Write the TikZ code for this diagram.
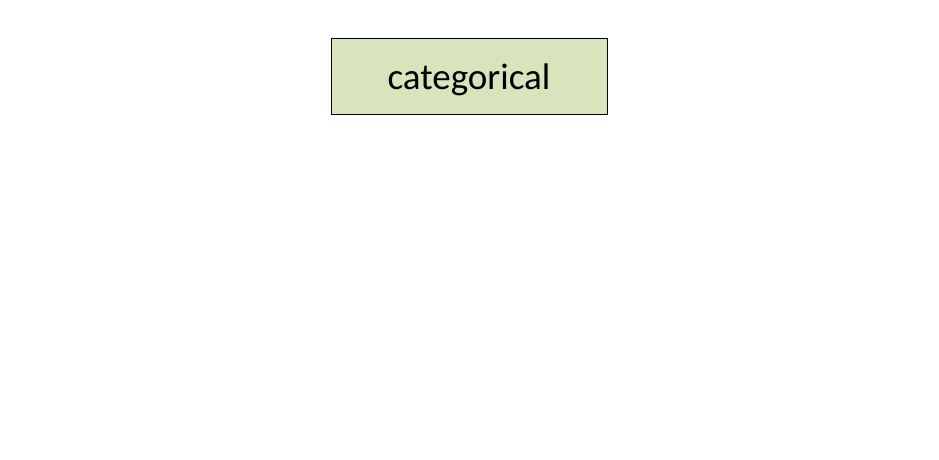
\documentclass[tikz,border=0pt]{standalone}
\usepackage{fontspec}
\setmainfont{Carlito}
\definecolor{boxgreen}{HTML}{D8E4BC}
\tikzset{catbox/.style={draw=black, line width=0.9pt, fill=boxgreen, minimum width=276pt, minimum height=76pt, inner sep=0pt, text height=34pt, text depth=7.5pt, font=\fontsize{37}{40}\selectfont}}
\begin{document}
\begin{tikzpicture}[x=1pt,y=1pt]
\useasboundingbox[fill=white] (0,0) rectangle (939,459);
\node[catbox] (cat) at (469,383) {categorical};
\end{tikzpicture}
\end{document}
